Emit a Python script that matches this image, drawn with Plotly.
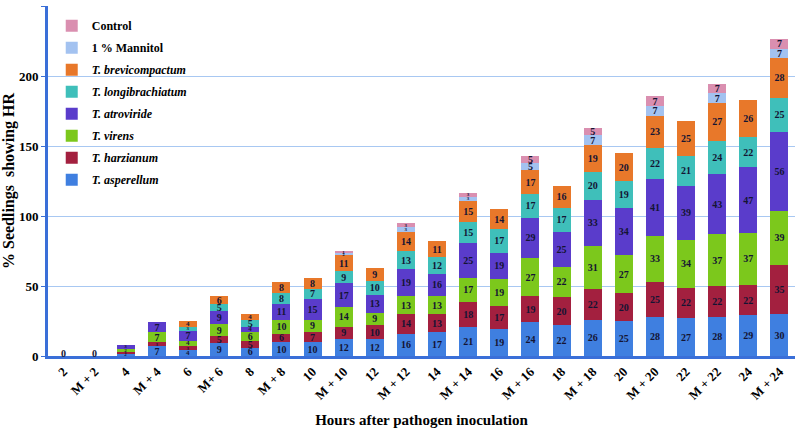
import plotly.graph_objects as go

categories = ["2", "M + 2", "4", "M + 4", "6", "M+ 6", "8", "M + 8", "10", "M + 10",
              "12", "M + 12", "14", "M + 14", "16", "M + 16", "18", "M + 18",
              "20", "M + 20", "22", "M + 22", "24", "M + 24"]

asperellum      = [0, 0, 2, 7, 4, 9, 6, 10, 10, 12, 12, 16, 17, 21, 19, 24, 22, 26, 25, 28, 27, 28, 29, 30]
harzianum       = [0, 0, 1, 3, 3, 5, 5, 6, 7, 9, 10, 14, 13, 18, 17, 19, 20, 22, 20, 25, 22, 22, 22, 35]
virens          = [0, 0, 2, 7, 4, 9, 6, 10, 9, 14, 9, 13, 13, 17, 19, 27, 22, 31, 27, 33, 34, 37, 37, 39]
atroviride      = [0, 0, 3, 7, 7, 9, 4, 11, 15, 17, 13, 19, 16, 25, 19, 29, 25, 33, 34, 41, 39, 43, 47, 56]
longibrachiatum = [0, 0, 0, 0, 3, 5, 5, 8, 7, 9, 10, 13, 12, 15, 17, 17, 17, 20, 19, 22, 21, 24, 22, 25]
brevicompactum  = [0, 0, 0, 0, 4, 6, 4, 8, 8, 11, 9, 14, 11, 15, 14, 17, 16, 19, 20, 23, 25, 27, 26, 28]
mannitol        = [0, 0, 0, 0, 0, 0, 0, 0, 0, 2, 0, 3, 0, 3, 0, 5, 0, 7, 0, 7, 0, 7, 0, 7]
control         = [0, 0, 0, 0, 0, 0, 0, 0, 0, 1, 0, 3, 0, 3, 0, 5, 0, 5, 0, 7, 0, 7, 0, 7]

series = [
    ("<i>T. asperellum</i>", asperellum, "#3F7FE0"),
    ("<i>T. harzianum</i>", harzianum, "#A3203F"),
    ("<i>T. virens</i>", virens, "#7CC81C"),
    ("<i>T. atroviride</i>", atroviride, "#5A3CCB"),
    ("<i>T. longibrachiatum</i>", longibrachiatum, "#3FBFBA"),
    ("<i>T. brevicompactum</i>", brevicompactum, "#E8782A"),
    ("1 % Mannitol", mannitol, "#A3C2F0"),
    ("Control", control, "#DA8FB0"),
]


def label_size(v):
    if v >= 5:
        return 10
    if v == 4:
        return 7
    return 5


serif = "Liberation Serif"
fig = go.Figure()
n = len(series)
for i, (name, vals, color) in enumerate(series):
    fig.add_trace(go.Bar(
        x=categories, y=vals, name=name, marker=dict(color=color, line=dict(width=0)),
        text=[str(v) if v > 0 else "" for v in vals],
        textposition="inside", insidetextanchor="middle", textangle=0,
        constraintext="none",
        textfont=dict(family=serif, size=[label_size(v) for v in vals],
                      color="#141433", weight="bold"),
        legendgroup=f"g{i}", legendrank=n - i,
    ))

totals = [sum(s[1][j] for s in series) for j in range(len(categories))]
for j, tot in enumerate(totals):
    if tot == 0:
        fig.add_annotation(x=j, y=0, text="0", showarrow=False, yanchor="bottom", yshift=-5,
                           font=dict(family=serif, size=10, color="#141433", weight="bold"))

fig.update_layout(
    width=798, height=433,
    barmode="stack", bargap=0.42,
    plot_bgcolor="white", paper_bgcolor="white",
    margin=dict(l=48, r=3, t=6, b=77, autoexpand=False),
    font=dict(family=serif, color="black"),
    legend=dict(x=0.005, y=0.985, xanchor="left", yanchor="top",
                font=dict(family=serif, size=12, color="black", weight="bold"),
                bgcolor="rgba(0,0,0,0)", tracegroupgap=3, traceorder="grouped"),
    xaxis=dict(
        automargin=False,
        tickangle=-45, tickfont=dict(family=serif, size=13, weight="bold"),
        showline=True, linecolor="#3A6FD8", linewidth=3, showgrid=False,
        title=dict(text="Hours after pathogen inoculation",
                   font=dict(family=serif, size=15, weight="bold"), standoff=13),
    ),
    yaxis=dict(
        automargin=False,
        range=[0, 250.5], tickvals=[0, 50, 100, 150, 200, 250],
        tickfont=dict(family=serif, size=13, weight="bold"),
        showline=True, linecolor="#3A6FD8", linewidth=3,
        showgrid=True, gridcolor="#A8C8F2", gridwidth=1,
        ticks="outside", ticklen=4, tickcolor="#3A6FD8",
        zeroline=False,
        title=dict(text="% Seedlings  showing HR",
                   font=dict(family=serif, size=16, weight="bold"), standoff=16),
    ),
)

fig.write_html("out.html", config={"displayModeBar": False},
               post_script="document.body.style.margin='0';")
